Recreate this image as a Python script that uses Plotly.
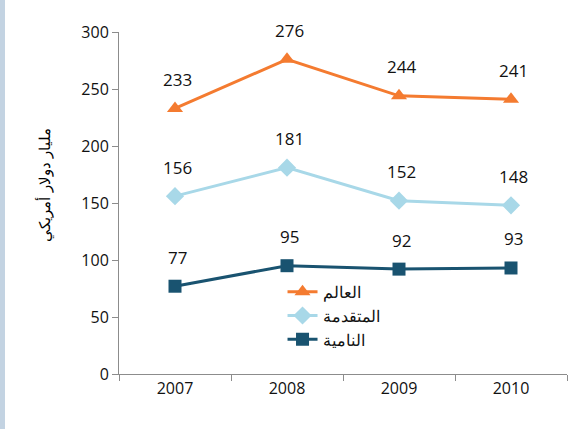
import plotly.graph_objects as go

years = ["2007", "2008", "2009", "2010"]
world = [233, 276, 244, 241]
advanced = [156, 181, 152, 148]
developing = [77, 95, 92, 93]
names = ["العالم", "المتقدمة", "النامية"]
y_title = "مليار دولار أمريكي"
y_ticks = [0, 50, 100, 150, 200, 250, 300]

colors = ["#F47B30", "#A8D8E8", "#195370"]
symbols = ["triangle-up", "diamond", "square"]
series = [world, advanced, developing]

fig = go.Figure()
for vals, name, col, sym in zip(series, names, colors, symbols):
    fig.add_trace(go.Scatter(
        x=years, y=vals, name=name, mode="lines+markers",
        line=dict(color=col, width=3),
        marker=dict(symbol=sym, size=14 if sym != "square" else 13, color=col),
    ))
    for i, yv in enumerate(vals):
        fig.add_annotation(x=i, y=yv, xref="x", yref="y", text=str(yv), showarrow=False,
                           yshift=29, xshift=2,
                           font=dict(size=17, color="#111111", family="Open Sans"))

fig.add_annotation(x=(45 - 119) / 448, y=(374 - 185) / 342, xref="paper", yref="paper",
                   text=y_title, textangle=-90, showarrow=False,
                   xanchor="center", yanchor="middle",
                   font=dict(size=14.5, family="DejaVu Serif", color="#000000"))

fig.add_shape(type="rect", xref="paper", yref="paper",
              x0=-119/448, x1=-114/448, y0=-55/342, y1=32/342 + 1,
              fillcolor="#C3D3E2", line=dict(width=0), layer="below")

fig.update_layout(
    width=582, height=429,
    margin=dict(l=119, r=15, t=32, b=55),
    paper_bgcolor="white", plot_bgcolor="white",
    showlegend=True,
    legend=dict(x=0.365, y=0.29, xanchor="left", yanchor="top",
                bgcolor="rgba(0,0,0,0)", font=dict(size=16, family="DejaVu Serif", color="#111111"),
                tracegroupgap=0, itemsizing="trace"),
    font=dict(family="Open Sans", size=16, color="#111111"),
)
fig.update_xaxes(type="category", showline=True, linecolor="#8C8C8C", linewidth=1,
                 ticks="outside", tickson="boundaries", ticklen=6, tickcolor="#8C8C8C",
                 showgrid=False, tickfont=dict(size=16), range=[-0.5, 3.5])
fig.update_yaxes(range=[0, 300], tickvals=y_ticks, showline=True, linecolor="#8C8C8C",
                 linewidth=1, ticks="outside", ticklen=6, tickcolor="#8C8C8C",
                 showgrid=False, zeroline=False, tickfont=dict(size=16))

fig.write_html("out.html", config={"displayModeBar": False},
               post_script="document.body.style.margin='0';")
